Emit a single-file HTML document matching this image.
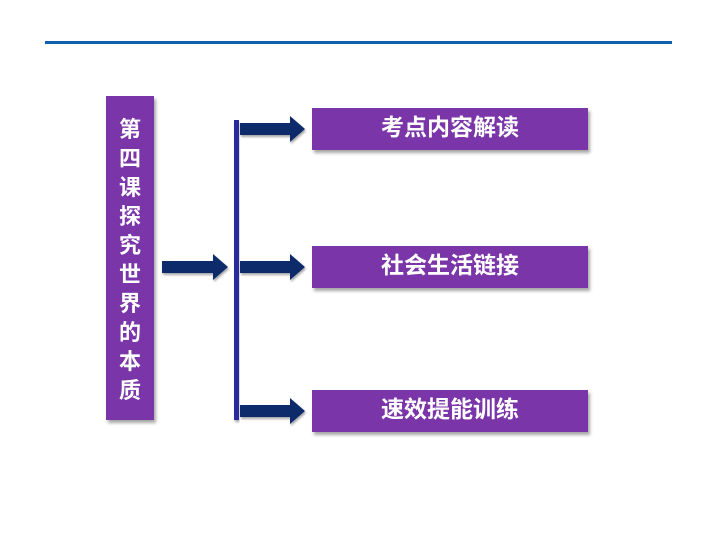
<!DOCTYPE html>
<html><head><meta charset="utf-8"><style>
body{margin:0;width:720px;height:540px;background:#fff;position:relative;overflow:hidden;font-family:"Liberation Sans","Noto Sans CJK SC",sans-serif}
.b{position:absolute;background:#7a36a8;color:#fff;font-weight:bold;box-shadow:2px 3px 3px rgba(0,0,0,.35)}
.r{left:312px;width:276px;height:42px;line-height:38px;text-align:center;font-size:23px}
</style></head><body>
<div style="position:absolute;left:45px;top:41px;width:627px;height:3px;background:#1060b0"></div>
<div class="b" style="left:106px;top:96px;width:48px;height:324px;font-size:22px;line-height:29px;text-align:center;padding-top:19px;box-sizing:border-box">第<br>四<br>课<br>探<br>究<br>世<br>界<br>的<br>本<br>质</div>
<div class="b r" style="top:108px">考点内容解读</div>
<div class="b r" style="top:246px">社会生活链接</div>
<div class="b r" style="top:390px">速效提能训练</div>
<svg width="720" height="540" style="position:absolute;left:0;top:0">
<defs><filter id="s"><feDropShadow dx="1" dy="2" stdDeviation="1" flood-opacity=".35"/></filter></defs>
<rect x="234" y="120" width="5" height="300" fill="#2a2aa0" filter="url(#s)"/>
<g fill="#0b2a6a" filter="url(#s)">
<polygon points="240,123 290,123 290,116 305,129 290,142 290,135 240,135"/>
<polygon points="240,261 290,261 290,254 305,267 290,280 290,273 240,273"/>
<polygon points="240,405 290,405 290,398 305,411 290,424 290,417 240,417"/>
<polygon points="162,261 213,261 213,254 228,267 213,280 213,273 162,273"/>
</g>
</svg>
</body></html>
